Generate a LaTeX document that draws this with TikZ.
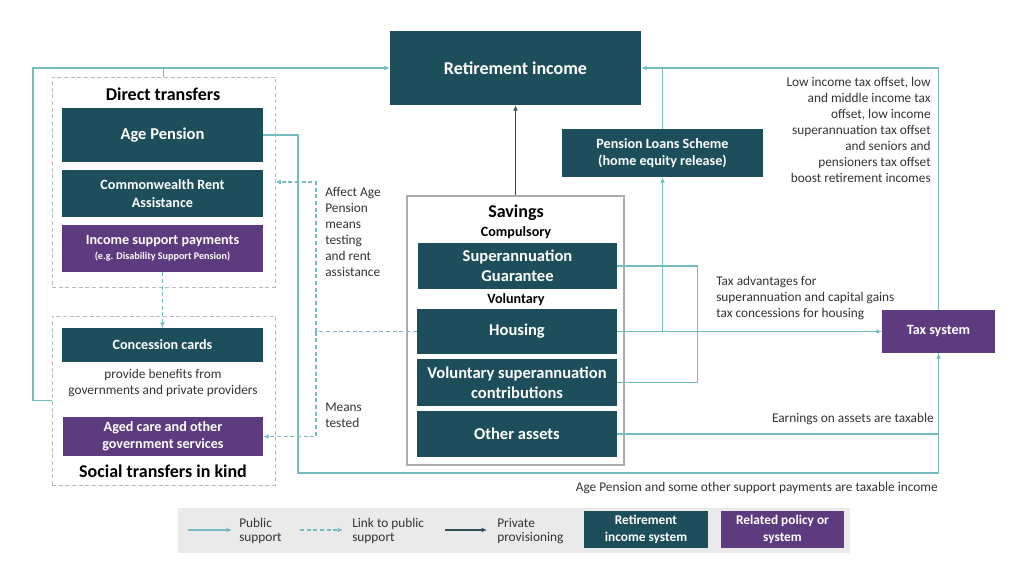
\documentclass[tikz,border=0pt]{standalone}
\usepackage{fontspec}
\setmainfont{Carlito}
\usetikzlibrary{arrows.meta}
\definecolor{rteal}{HTML}{1D4E5B}
\definecolor{rpurple}{HTML}{5D3B7E}
\definecolor{lteal}{HTML}{74BCBF}
\definecolor{dline}{HTML}{2F4F5A}
\definecolor{leggray}{HTML}{EAEAEA}
\definecolor{txt}{HTML}{333333}
\newcommand\ffbig{\fontsize{13.5}{16}\selectfont\bfseries}
\newcommand\ffmed{\fontsize{12.4}{15}\selectfont\bfseries}
\newcommand\ffsml{\fontsize{10.6}{13}\selectfont\bfseries}
\newcommand\fftiny{\fontsize{7.6}{9}\selectfont\bfseries}
\newcommand\ffreg{\fontsize{10}{12}\selectfont}
% #1 style, #2 name, #3 x1, #4 y1, #5 x2, #6 y2, #7 text  (pixel units)
\newcommand\mkbox[7]{%
  \pgfmathsetmacro\mkbw{(#5-#3)*0.75}%
  \pgfmathsetmacro\mkbh{(#6-#4)*0.75}%
  \node[#1, minimum width=\mkbw pt, minimum height=\mkbh pt] (#2) at ({(#3+#5)/2},{(#4+#6)/2}) {#7};}
\tikzset{
  rbox/.style={fill=rteal, draw=none, text=white, align=center, inner sep=0pt},
  pbox/.style={fill=rpurple, draw=none, text=white, align=center, inner sep=0pt},
  grp/.style={draw=gray!55, dash pattern=on 3pt off 2pt, line width=0.7pt, inner sep=0pt},
  savbox/.style={draw=gray!65, line width=0.8pt, inner sep=0pt},
  legbox/.style={fill=leggray, draw=none, inner sep=0pt},
  pub/.style={draw=lteal, line width=0.9pt},
  link/.style={draw=lteal, line width=0.9pt, dash pattern=on 3pt off 2pt},
  priv/.style={draw=dline, line width=0.9pt},
  arr/.style={-{Latex[length=4pt,width=3.5pt]}},
  lbl/.style={text=txt, font=\ffreg, inner sep=0pt},
  head/.style={text=black, inner sep=0pt},
}
\begin{document}
\begin{tikzpicture}[x=0.75pt,y=-0.75pt]
\useasboundingbox (0,0) rectangle (1024,585);
% legend background
\mkbox{legbox}{leg}{178}{508}{850}{553}{}
% group boxes
\mkbox{grp}{dt}{52}{77}{275}{287}{}
\mkbox{grp}{st}{52}{316}{275}{485}{}
\node[head, font=\ffbig] (dtl) at (163,94) {Direct transfers};
\node[head, font=\ffbig] (stl) at (163,471) {Social transfers in kind};
% left boxes
\mkbox{rbox, font=\ffmed}{ap}{62}{108}{263}{162}{Age Pension}
\mkbox{rbox, font=\ffsml}{cra}{62}{170}{263}{217}{Commonwealth Rent\\Assistance}
\mkbox{pbox}{isp}{62}{225}{263}{272}{\ffsml Income support payments\\[-1pt]\fftiny (e.g. Disability Support Pension)}
\mkbox{rbox, font=\ffsml}{cc}{62}{328}{263}{362}{Concession cards}
\node[lbl, align=center] (cct) at (163,383) {provide benefits from\\governments and private providers};
\mkbox{pbox, font=\ffsml}{ac}{63}{417}{263}{456}{Aged care and other\\government services}
% centre
\mkbox{rbox, font=\ffbig}{ri}{390}{31}{641}{105}{Retirement income}
\mkbox{rbox, font=\ffsml}{pls}{562}{129}{763}{177}{Pension Loans Scheme\\(home equity release)}
\mkbox{savbox}{sav}{407}{196}{624}{465}{}
\node[head, font=\ffbig] (savl) at (516,213) {Savings};
\node[head, font=\ffsml] (comp) at (516,233) {Compulsory};
\node[head, font=\ffsml] (vol) at (516,300) {Voluntary};
\mkbox{rbox, font=\ffmed}{sg}{418}{243}{617}{289}{Superannuation\\Guarantee}
\mkbox{rbox, font=\ffmed}{hou}{417}{309}{617}{354}{Housing}
\mkbox{rbox, font=\ffmed}{vsc}{417}{359}{617}{406}{Voluntary superannuation\\contributions}
\mkbox{rbox, font=\ffmed}{oa}{417}{411}{617}{457}{Other assets}
% right
\mkbox{pbox, font=\ffsml}{tax}{882}{310}{995}{353}{Tax system}
% labels
\node[lbl, align=left, anchor=west] (aff) at (325,232) {Affect Age\\Pension\\means\\testing\\and rent\\assistance};
\node[lbl, align=left, anchor=west] (mt) at (325,415) {Means\\tested};
\node[lbl, align=right, anchor=east] (lito) at (931,130) {Low income tax offset, low\\and middle income tax\\offset, low income\\superannuation tax offset\\and seniors and\\pensioners tax offset\\boost retirement incomes};
\node[lbl, align=left, anchor=west] (tadv) at (716,298) {Tax advantages for\\superannuation and capital gains\\tax concessions for housing};
\node[lbl, anchor=east] (earn) at (934,419) {Earnings on assets are taxable};
\node[lbl, anchor=east] (aptax) at (938,488) {Age Pension and some other support payments are taxable income};
% connectors
\draw[pub, arr] (st.west) -- (33,400.5) -- (33,68) -- (ri.west);
\draw[pub] (dt.north) -- (dt.north |- ri.west);
\draw[pub, arr] (tax.north) -- (tax.north |- ri.east) -- (ri.east);
\draw[pub] (pls.north) -- (pls.north |- ri.east);
\draw[priv, arr] (sav.north) -- (ri.south);
\draw[pub, arr] (hou.east) -- (tax.west);
\coordinate (hj) at (pls.south |- hou.east);
\draw[pub, arr] (hj) -- (pls.south);
\draw[pub] (sg.east) -- ++(80,0) |- (vsc.east);
\draw[pub] (oa.east) -| (tax.south);
\draw[pub, arr] (ap.east) -- (298,135) -- (298,473) -| (tax.south);
\coordinate (dj) at (316,331.5);
\draw[link] (hou.west) -- (dj);
\draw[link, arr] (dj) |- (dt.east);
\draw[link, arr] (dj) |- (ac.east);
\draw[link, arr] (isp.south) -- (cc.north);
% legend
\coordinate (l1a) at (188,530); \coordinate (l1b) at (232,530);
\coordinate (l2a) at (300,530); \coordinate (l2b) at (343,530);
\coordinate (l3a) at (445,530); \coordinate (l3b) at (487,530);
\draw[pub, arr] (l1a) -- (l1b);
\draw[link, arr] (l2a) -- (l2b);
\draw[priv, arr] (l3a) -- (l3b);
\node[lbl, align=left, anchor=west, font=\fontsize{10}{10.8}\selectfont] (lt1) at (239,531) {Public\\support};
\node[lbl, align=left, anchor=west, font=\fontsize{10}{10.8}\selectfont] (lt2) at (352,531) {Link to public\\support};
\node[lbl, align=left, anchor=west, font=\fontsize{10}{10.8}\selectfont] (lt3) at (497,531) {Private\\provisioning};
\mkbox{rbox, font=\fontsize{10}{13}\selectfont\bfseries}{lg1}{584}{511}{708}{548}{Retirement\\income system}
\mkbox{pbox, font=\fontsize{10}{13}\selectfont\bfseries}{lg2}{721}{511}{844}{548}{Related policy or\\system}
\end{tikzpicture}
\end{document}
